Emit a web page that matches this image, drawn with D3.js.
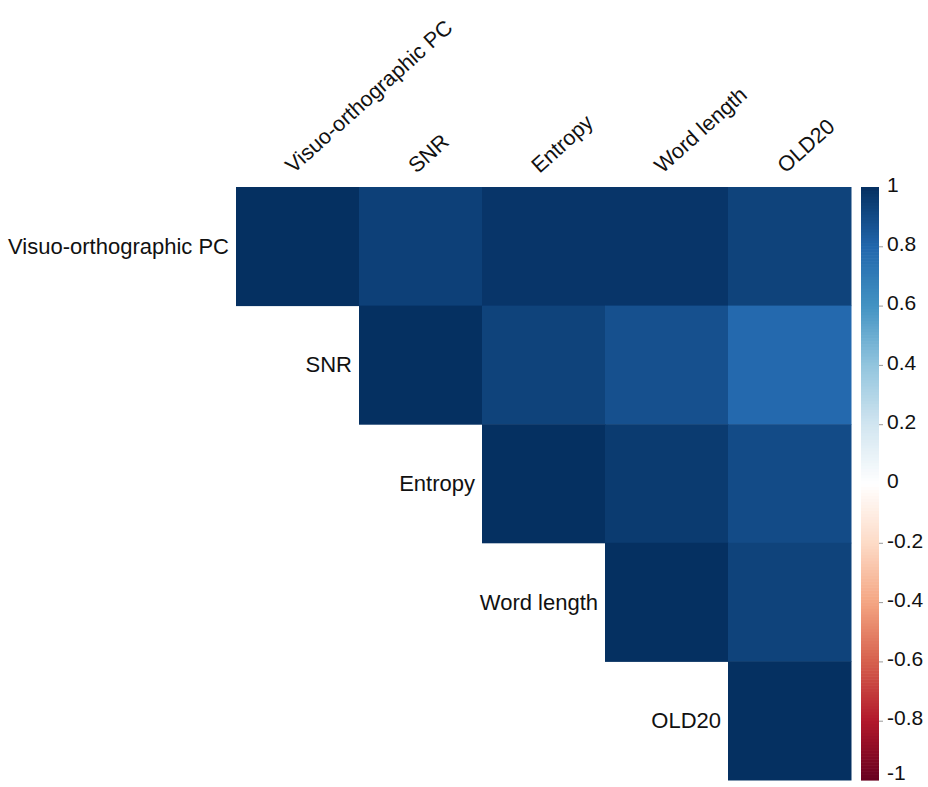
<!DOCTYPE html>
<html>
<head>
<meta charset="utf-8">
<script src="https://cdn.jsdelivr.net/npm/d3@7"></script>
<style>
  html, body { margin: 0; padding: 0; background: #fff; }
  text { font-family: "Liberation Sans", Arial, sans-serif; fill: #111; }
</style>
</head>
<body>
<svg id="chart" width="928" height="787"></svg>
<script>
// Variable names (rows and columns of the correlation matrix)
const variables = ["Visuo-orthographic PC", "SNR", "Entropy", "Word length", "OLD20"];

// Upper-triangle correlations, one array per row (starting at the diagonal)
const rowVisuo   = [1.00, 0.94, 0.98, 0.98, 0.93];
const rowSNR     = [1.00, 0.93, 0.88, 0.785];
const rowEntropy = [1.00, 0.96, 0.90];
const rowWordLen = [1.00, 0.93];
const rowOLD20   = [1.00];
const upperRows = [rowVisuo, rowSNR, rowEntropy, rowWordLen, rowOLD20];

// Colour legend tick labels
const legendTicks = [1, 0.8, 0.6, 0.4, 0.2, 0, -0.2, -0.4, -0.6, -0.8, -1];

// Diverging red-blue palette anchors
const paletteColors = ["#67001F", "#B2182B", "#D6604D", "#F4A582", "#FDDBC7", "#FFFFFF",
                       "#D1E5F0", "#92C5DE", "#4393C3", "#2166AC", "#053061"];

const svg = d3.select("#chart");

const gridLeft = 236, gridTop = 187, gridRight = 851, gridBottom = 780;

const x = d3.scaleBand().domain(variables).range([gridLeft, gridRight]).padding(0);
const y = d3.scaleBand().domain(variables).range([gridTop, gridBottom]).padding(0);

const color = d3.scaleLinear()
  .domain(d3.range(paletteColors.length).map(i => -1 + i * 0.2))
  .range(paletteColors)
  .interpolate(d3.interpolateRgb)
  .clamp(true);

// Flatten the upper triangle into cells
const cells = [];
upperRows.forEach((vals, i) => {
  vals.forEach((v, k) => {
    const j = i + k;
    cells.push({ row: variables[i], col: variables[j], value: v });
  });
});

svg.append("g")
  .selectAll("rect")
  .data(cells)
  .join("rect")
  .attr("x", d => x(d.col))
  .attr("y", d => y(d.row))
  .attr("width", x.bandwidth() + 0.5)
  .attr("height", y.bandwidth() + 0.5)
  .attr("fill", d => color(d.value));

// Row labels, right-aligned next to the first cell of each row
svg.append("g")
  .selectAll("text")
  .data(variables)
  .join("text")
  .attr("x", d => x(d) - 7)
  .attr("y", d => y(d) + y.bandwidth() / 2)
  .attr("text-anchor", "end")
  .attr("dominant-baseline", "central")
  .attr("font-size", 22)
  .text(d => d);

// Column labels, rotated above the grid
svg.append("g")
  .selectAll("text")
  .data(variables)
  .join("text")
  .attr("transform", d => `translate(${x(d) + x.bandwidth() / 2 - 4},${gridTop - 13}) rotate(-42)`)
  .attr("text-anchor", "start")
  .attr("font-size", 21.5)
  .text(d => d);

// Colour legend
const legX = 861, legW = 18;
const legScale = d3.scaleLinear().domain([-1, 1]).range([gridBottom, gridTop]);

const nSteps = 200;
const stepVals = d3.range(nSteps).map(i => -1 + (i + 0.5) * 2 / nSteps);
const stepH = (gridBottom - gridTop) / nSteps;
svg.append("g")
  .selectAll("rect")
  .data(stepVals)
  .join("rect")
  .attr("x", legX)
  .attr("y", v => legScale(v) - stepH / 2)
  .attr("width", legW)
  .attr("height", stepH + 0.6)
  .attr("fill", v => color(v));

const axis = d3.axisRight(legScale)
  .tickValues(legendTicks)
  .tickSize(4)
  .tickFormat(d => String(d));

const axG = svg.append("g")
  .attr("transform", `translate(${legX + legW},0)`)
  .call(axis);
axG.select(".domain").remove();
axG.selectAll(".tick line").attr("stroke", "#999")
  .attr("opacity", d => (d === 1 || d === -1 || d === 0) ? 0 : 1);
axG.selectAll(".tick text")
  .attr("x", 8)
  .attr("dy", d => d === -1 ? "-0.02em" : "0.2em")
  .attr("font-size", 21)
  .attr("font-family", "Liberation Sans, Arial, sans-serif")
  .attr("fill", "#111");
</script>
</body>
</html>
